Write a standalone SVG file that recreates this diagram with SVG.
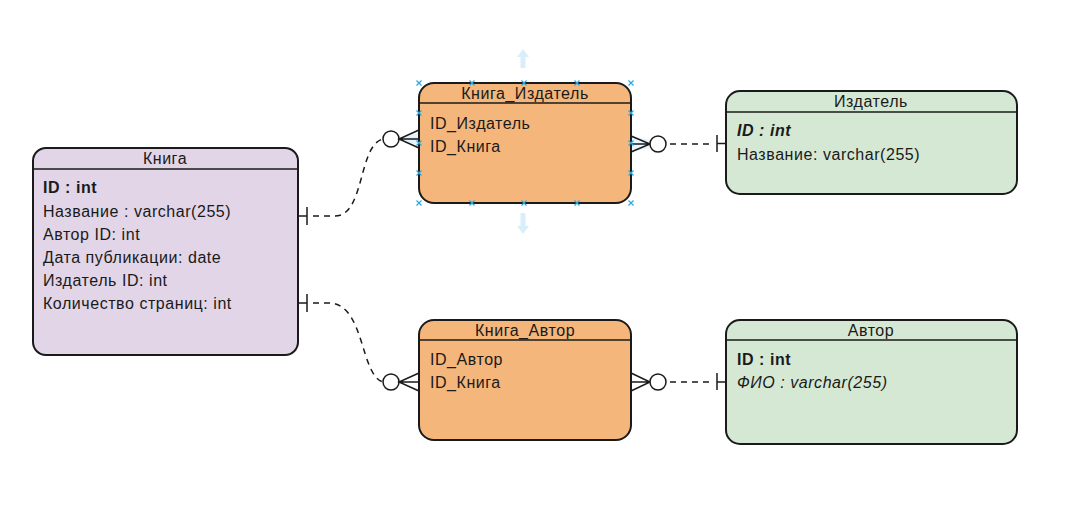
<svg xmlns="http://www.w3.org/2000/svg" width="1078" height="506" viewBox="0 0 1078 506">
<style>
.box{stroke:#1a1a1a;stroke-width:2}
.hl{stroke:#1a1a1a;stroke-width:1.5}
.t{font-family:"Liberation Sans",Arial,sans-serif;font-size:16px;letter-spacing:0.55px;fill:#1a1a1a}
.c{text-anchor:middle}
.b{font-weight:bold}
.i{font-style:italic}
.dash{fill:none;stroke:#1a1a1a;stroke-width:1.5;stroke-dasharray:6 5}
.ln{fill:none;stroke:#1a1a1a;stroke-width:1.5}
.circ{fill:#fff;stroke:#1a1a1a;stroke-width:1.5}
.sel{stroke:#29a8e0;stroke-width:1.2}
</style>
<defs>
<g id="xm"><path class="sel" d="M-2.5,-2.5L2.5,2.5M-2.5,2.5L2.5,-2.5"/></g>
</defs>
<rect width="1078" height="506" fill="#fff"/>

<!-- selection arrows -->
<g fill="#d9eefb">
<path d="M523,49 L529,57 L525.5,57 L525.5,68 L520.5,68 L520.5,57 L517,57 Z"/>
<path d="M523,234 L529,226 L525.5,226 L525.5,213 L520.5,213 L520.5,226 L517,226 Z"/>
<path d="M400,139 L419,132 L419,146 Z" opacity="0.7"/>
<path d="M631,136 L652,140 L652,148 L631,152 Z" opacity="0.6"/>
</g>

<g id="node-kniga">
<rect class="box" x="33" y="148" width="265" height="207" rx="13" fill="#e1d5e7"/>
<line class="hl" x1="33" y1="169" x2="298" y2="169"/>
<text class="t c" x="165" y="164">Книга</text>
<text class="t b" x="43" y="193">ID : int</text>
<text class="t" x="43" y="217">Название : varchar(255)</text>
<text class="t" x="43" y="240">Автор ID: int</text>
<text class="t" x="43" y="263">Дата публикации: date</text>
<text class="t" x="43" y="286">Издатель ID: int</text>
<text class="t" x="43" y="309">Количество страниц: int</text>
</g>

<g id="node-kniga-izdatel">
<rect class="box" x="419" y="83" width="212" height="120" rx="15" fill="#f4b67a"/>
<line class="hl" x1="419" y1="103" x2="631" y2="103"/>
<text class="t c" x="525" y="99">Книга_Издатель</text>
<text class="t" x="430" y="129">ID_Издатель</text>
<text class="t" x="430" y="152">ID_Книга</text>
</g>

<g id="node-izdatel">
<rect class="box" x="726" y="91" width="291" height="103" rx="14" fill="#d5e8d4"/>
<line class="hl" x1="726" y1="112" x2="1017" y2="112"/>
<text class="t c" x="871" y="107">Издатель</text>
<text class="t b i" x="737" y="136">ID : int</text>
<text class="t" x="737" y="160">Название: varchar(255)</text>
</g>

<g id="node-kniga-avtor">
<rect class="box" x="419" y="320" width="212" height="120" rx="15" fill="#f4b67a"/>
<line class="hl" x1="419" y1="340" x2="631" y2="340"/>
<text class="t c" x="525" y="336">Книга_Автор</text>
<text class="t" x="430" y="365">ID_Автор</text>
<text class="t" x="430" y="388">ID_Книга</text>
</g>

<g id="node-avtor">
<rect class="box" x="726" y="320" width="291" height="124" rx="14" fill="#d5e8d4"/>
<line class="hl" x1="726" y1="340" x2="1017" y2="340"/>
<text class="t c" x="871" y="336">Автор</text>
<text class="t b" x="737" y="365">ID : int</text>
<text class="t i" x="737" y="388">ФИО : varchar(255)</text>
</g>

<g id="connectors">
<!-- Книга -> Книга_Издатель -->
<line class="ln" x1="298" y1="216" x2="307" y2="216"/>
<line class="ln" x1="307" y1="207" x2="307" y2="225"/>
<path class="dash" d="M313,216 L335,216 C365,216 358,145 383,139"/>
<circle class="circ" cx="391" cy="139" r="8"/>
<path class="ln" d="M419,130 L399,139 L419,148 M399,139 L419,139"/>

<!-- Книга_Издатель -> Издатель -->
<path class="ln" d="M631,136 L650,144 L631,152 M631,144 L650,144"/>
<circle class="circ" cx="658" cy="144" r="8"/>
<path class="dash" d="M670,144 L712,144"/>
<line class="ln" x1="717" y1="135" x2="717" y2="152"/>
<line class="ln" x1="717" y1="143.5" x2="726" y2="143.5"/>

<!-- Книга -> Книга_Автор -->
<line class="ln" x1="298" y1="303" x2="307" y2="303"/>
<line class="ln" x1="307" y1="294" x2="307" y2="312"/>
<path class="dash" d="M313,303 L330,303 C365,305 360,375 383,382"/>
<circle class="circ" cx="391" cy="382" r="8"/>
<path class="ln" d="M419,373 L399,382 L419,391 M399,382 L419,382"/>

<!-- Книга_Автор -> Автор -->
<path class="ln" d="M631,373 L650,382 L631,391 M631,382 L650,382"/>
<circle class="circ" cx="658" cy="382" r="8"/>
<path class="dash" d="M670,382 L712,382"/>
<line class="ln" x1="717" y1="373" x2="717" y2="390"/>
<line class="ln" x1="717" y1="382" x2="726" y2="382"/>
</g>

<!-- selection handles -->
<g>
<use href="#xm" x="419" y="83"/><use href="#xm" x="472" y="83"/><use href="#xm" x="524" y="83"/><use href="#xm" x="577" y="83"/><use href="#xm" x="631" y="83"/>
<use href="#xm" x="419" y="203"/><use href="#xm" x="472" y="203"/><use href="#xm" x="524" y="203"/><use href="#xm" x="577" y="203"/><use href="#xm" x="631" y="203"/>
<use href="#xm" x="419" y="113"/><use href="#xm" x="419" y="143"/><use href="#xm" x="419" y="173"/>
<use href="#xm" x="631" y="113"/><use href="#xm" x="631" y="143"/><use href="#xm" x="631" y="173"/>
</g>
</svg>
